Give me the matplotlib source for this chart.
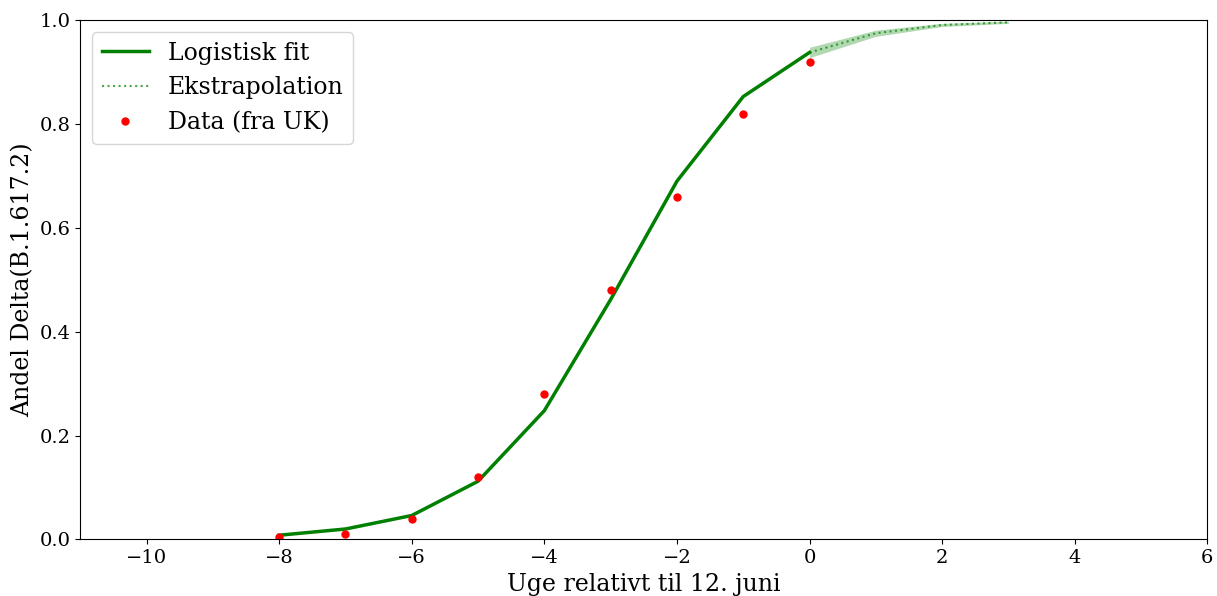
import numpy as np
import matplotlib
matplotlib.use("Agg")
import matplotlib.pyplot as plt

plt.rcParams["font.family"] = "DejaVu Serif"

# weeks relative to 12 June
fit_weeks = [-8, -7, -6, -5, -4, -3, -2, -1, 0]
fit_vals = [0.008, 0.020, 0.046, 0.112, 0.248, 0.462, 0.690, 0.853, 0.938]

ext_weeks = [0, 1, 2, 3]
ext_vals = [0.938, 0.975, 0.991, 0.996]
ext_low = [0.928, 0.969, 0.988, 0.994]
ext_high = [0.948, 0.981, 0.994, 0.998]

data_weeks = [-8, -7, -6, -5, -4, -3, -2, -1, 0]
data_vals = [0.005, 0.01, 0.04, 0.12, 0.28, 0.48, 0.66, 0.82, 0.92]

fig, ax = plt.subplots(figsize=(12.17, 5.96), dpi=100)

ax.plot(fit_weeks, fit_vals, color="green", lw=2.5, label="Logistisk fit")
ax.plot(ext_weeks, ext_vals, color="green", ls=":", lw=1.5, alpha=0.7,
        label="Ekstrapolation")
ax.fill_between(ext_weeks, ext_low, ext_high, color="green", alpha=0.3,
                lw=0)
ax.plot(data_weeks, data_vals, "o", color="red", ms=5, label="Data (fra UK)")

ax.set_xlim(-11, 6)
ax.set_ylim(0, 1)
ax.set_xticks(np.arange(-10, 7, 2))
ax.tick_params(labelsize=14)
ax.set_xlabel("Uge relativt til 12. juni", fontsize=17)
ax.set_ylabel("Andel Delta(B.1.617.2)", fontsize=17)
ax.legend(loc="upper left", fontsize=17)

fig.subplots_adjust(left=0.066, right=0.992, top=0.966, bottom=0.095)
fig.savefig("out.png", dpi=100)
plt.close(fig)
